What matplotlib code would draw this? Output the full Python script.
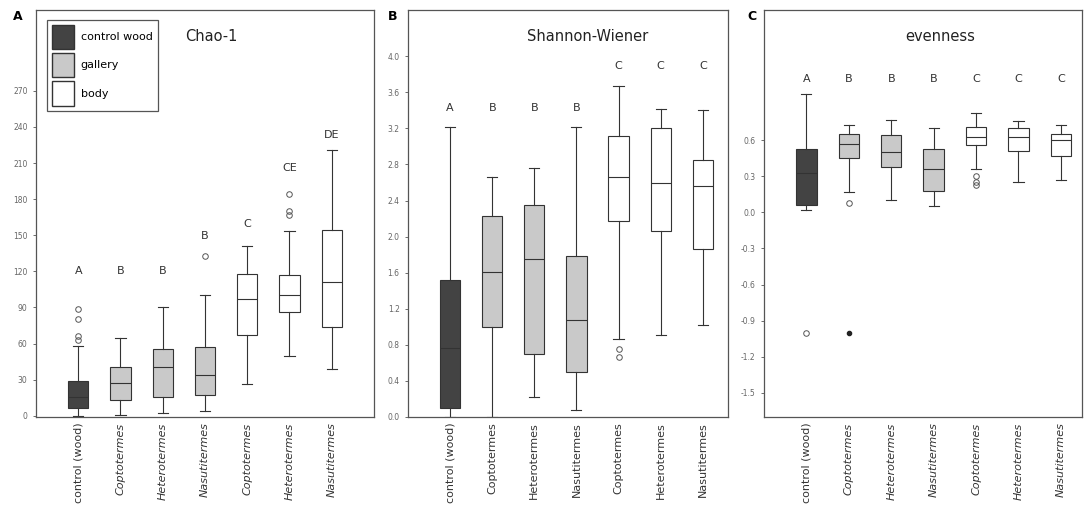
import numpy as np
import matplotlib
matplotlib.use('Agg')
import matplotlib.pyplot as plt
from matplotlib.patches import Patch

# group labels (same order in all panels)
groups = ['control (wood)', 'Coptotermes', 'Heterotermes', 'Nasutitermes',
          'Coptotermes', 'Heterotermes', 'Nasutitermes']
kinds = ['wood', 'gallery', 'gallery', 'gallery', 'body', 'body', 'body']

# Chao-1: whislo, q1, med, q3, whishi
chao_lo = [0, 1, 2, 4, 26, 50, 39]
chao_q1 = [6.6, 13, 15.5, 17, 67, 86, 73.5]
chao_med = [16, 27, 40.5, 33.5, 97, 100.5, 111]
chao_q3 = [28.5, 40.5, 55.5, 57, 118, 117, 154]
chao_hi = [58, 65, 90, 100, 141, 153.5, 220.6]
chao_fl = [[63, 66, 80, 89], [], [], [133], [], [167, 170, 184], []]
chao_letters = ['A', 'B', 'B', 'B', 'C', 'CE', 'DE']
chao_letter_y = [120, 120, 120, 149, 159, 206, 233]

# Shannon-Wiener
sw_lo = [0.0, 0.0, 0.22, 0.08, 0.86, 0.91, 1.02]
sw_q1 = [0.1, 1.0, 0.70, 0.50, 2.17, 2.06, 1.86]
sw_med = [0.76, 1.61, 1.75, 1.08, 2.66, 2.59, 2.56]
sw_q3 = [1.52, 2.23, 2.35, 1.79, 3.12, 3.20, 2.85]
sw_hi = [3.21, 2.66, 2.76, 3.21, 3.67, 3.42, 3.40]
sw_fl = [[], [], [], [], [0.66, 0.75], [], []]
sw_letters = ['A', 'B', 'B', 'B', 'C', 'C', 'C']
sw_letter_y = [3.43, 3.43, 3.43, 3.43, 3.89, 3.89, 3.89]

# evenness
ev_lo = [0.02, 0.17, 0.10, 0.05, 0.36, 0.25, 0.27]
ev_q1 = [0.06, 0.45, 0.38, 0.18, 0.56, 0.51, 0.47]
ev_med = [0.33, 0.57, 0.50, 0.36, 0.63, 0.63, 0.60]
ev_q3 = [0.53, 0.65, 0.64, 0.53, 0.71, 0.70, 0.65]
ev_hi = [0.98, 0.73, 0.77, 0.70, 0.83, 0.76, 0.73]
ev_fl = [[-1.0], [0.075], [], [], [0.23, 0.25, 0.30], [], []]
ev_extreme = [None, -1.0, None, None, None, None, None]
ev_letters = ['A', 'B', 'B', 'B', 'C', 'C', 'C']
ev_letter_y = [1.11] * 7

colors = {'wood': '#434343', 'gallery': '#c9c9c9', 'body': 'white'}
edge = '#333333'
grey = '#555555'

fig = plt.figure(figsize=(10.84, 5.11), dpi=100)
axA = fig.add_axes([0.0332, 0.184, 0.3118, 0.796])
axB = fig.add_axes([0.3764, 0.184, 0.2952, 0.796])
axC = fig.add_axes([0.7048, 0.184, 0.2934, 0.796])


def draw(ax, lo, q1, med, q3, hi, fl, letters, ly, title, tx, italic):
    stats = []
    for i in range(len(groups)):
        stats.append(dict(whislo=lo[i], q1=q1[i], med=med[i], q3=q3[i],
                          whishi=hi[i], fliers=fl[i]))
    pos = np.arange(1, len(groups) + 1)
    bp = ax.bxp(stats, positions=pos, widths=0.48, patch_artist=True,
                showfliers=True,
                boxprops=dict(edgecolor=edge, linewidth=0.8),
                medianprops=dict(color=edge, linewidth=0.8),
                whiskerprops=dict(color=edge, linewidth=0.8),
                capprops=dict(color=edge, linewidth=0.8),
                flierprops=dict(marker='o', markersize=4, markerfacecolor='none',
                                markeredgecolor=grey, markeredgewidth=0.7))
    for b, k in zip(bp['boxes'], kinds):
        b.set_facecolor(colors[k])
    for x, s, y in zip(pos, letters, ly):
        ax.text(x, y, s, ha='center', va='center', fontsize=8, color='#333333')
    ax.text(tx, 0.935, title, transform=ax.transAxes,
            ha='center', va='center', fontsize=10.5, color='#222222')
    ax.set_xticks(pos)
    ax.set_xticklabels(groups, rotation=90, fontsize=8, color='#333333')
    if italic:
        for t in ax.get_xticklabels()[1:]:
            t.set_style('italic')
    ax.tick_params(axis='y', labelsize=5.5, labelcolor='#666666', length=2.5,
                   width=0.6, color=grey)
    ax.tick_params(axis='x', length=0, pad=4)
    for sp in ax.spines.values():
        sp.set_color('#555555')
        sp.set_linewidth(0.9)
    return pos


draw(axA, chao_lo, chao_q1, chao_med, chao_q3, chao_hi, chao_fl,
     chao_letters, chao_letter_y, 'Chao-1', 0.52, True)
axA.set_xlim(0, 8)
axA.set_ylim(-1, 337)
axA.set_yticks(np.arange(0, 271, 30))

draw(axB, sw_lo, sw_q1, sw_med, sw_q3, sw_hi, sw_fl,
     sw_letters, sw_letter_y, 'Shannon-Wiener', 0.56, False)
axB.set_xlim(0, 7.6)
axB.set_ylim(0, 4.51)
axB.set_yticks(np.arange(0, 4.01, 0.4))
axB.set_yticklabels([f'{v:.1f}' for v in np.arange(0, 4.01, 0.4)])

pos = draw(axC, ev_lo, ev_q1, ev_med, ev_q3, ev_hi, ev_fl,
           ev_letters, ev_letter_y, 'evenness', 0.553, True)
for x, e in zip(pos, ev_extreme):
    if e is not None:
        axC.plot(x, e, marker='o', ms=3, color='#222222', ls='none')
axC.set_xlim(0, 7.5)
axC.set_ylim(-1.70, 1.68)
yt = np.arange(-1.5, 0.61, 0.3)
axC.set_yticks(yt)
axC.set_yticklabels([f'{v:.1f}' for v in yt])

# panel letters
for ax, s, dx in [(axA, 'A', -0.068), (axB, 'B', -0.0625), (axC, 'C', -0.053)]:
    ax.text(dx, 1.0, s, transform=ax.transAxes,
            ha='left', va='top', fontsize=9, fontweight='bold')

# legend
handles = [Patch(facecolor=colors['wood'], edgecolor=edge, label='control wood'),
           Patch(facecolor=colors['gallery'], edgecolor=edge, label='gallery'),
           Patch(facecolor=colors['body'], edgecolor=edge, label='body')]
leg = axA.legend(handles=handles, loc='upper left', bbox_to_anchor=(0.022, 0.985),
                 fontsize=8, handlelength=2.0, handleheight=3.0,
                 labelspacing=0.35, handletextpad=0.6, borderpad=0.45,
                 borderaxespad=0.3,
                 fancybox=False, framealpha=1, edgecolor='#555555')
leg.get_frame().set_linewidth(0.9)

fig.savefig('out.png', dpi=100)
